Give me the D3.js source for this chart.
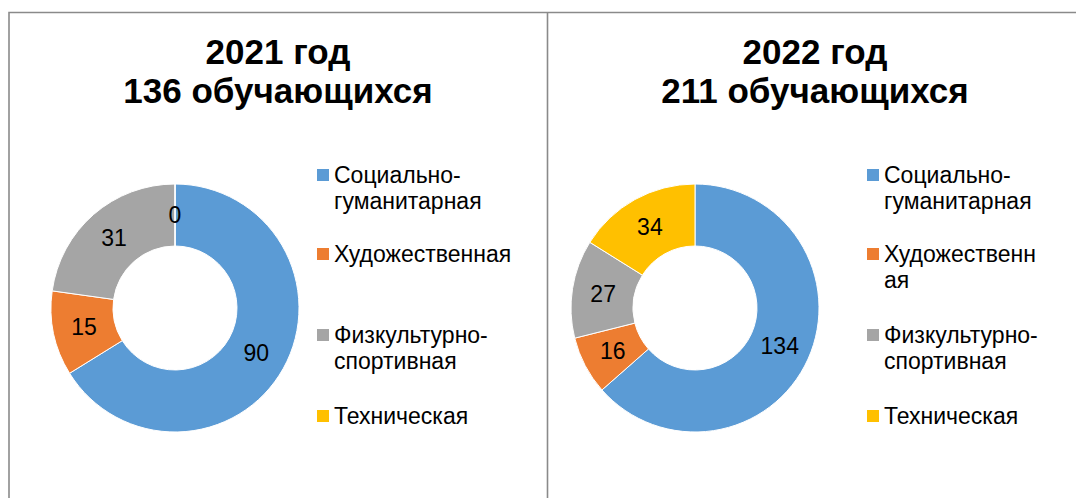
<!DOCTYPE html>
<html>
<head>
<meta charset="utf-8">
<script src="https://cdn.jsdelivr.net/npm/d3@7"></script>
<style>
  html, body { margin: 0; padding: 0; background: #fff; }
  svg { display: block; font-family: "Liberation Sans", Arial, sans-serif; }
</style>
</head>
<body>
<svg id="chart" width="1076" height="498"></svg>
<script>
// Направления дополнительного образования
const categories = ["Социально-гуманитарная", "Художественная", "Физкультурно-спортивная", "Техническая"];
const colors = ["#5B9BD5", "#ED7D31", "#A5A5A5", "#FFC000"];

// Число обучающихся по годам
const values2021 = [90, 15, 31, 0];
const values2022 = [134, 16, 27, 34];

const titles2021 = ["2021 год", "136 обучающихся"];
const titles2022 = ["2022 год", "211 обучающихся"];

// Подписи легенды (переносы строк как в каждой панели)
const legend2021 = [["Социально-", "гуманитарная"], ["Художественная"], ["Физкультурно-", "спортивная"], ["Техническая"]];
const legend2022 = [["Социально-", "гуманитарная"], ["Художественн", "ая"], ["Физкультурно-", "спортивная"], ["Техническая"]];

const svg = d3.select("#chart");

// Рамка панелей
const frame = svg.append("g").attr("fill", "none").attr("stroke", "#8a8a8a").attr("stroke-width", 1.6);
frame.append("path").attr("d", "M9,498 V12.5 H1076");
frame.append("path").attr("d", "M547.5,12.5 V498");

const color = d3.scaleOrdinal().domain(categories).range(colors);
const pie = d3.pie().sort(null).value(d => d.value);
const outerR = 124, innerR = 62;
const arc = d3.arc().innerRadius(innerR).outerRadius(outerR);
const labelArc = d3.arc().innerRadius((innerR + outerR) / 2).outerRadius((innerR + outerR) / 2);

function panel(opts) {
  const g = svg.append("g");

  // Заголовок
  g.append("text")
    .attr("x", opts.titleX)
    .attr("y", 64)
    .attr("text-anchor", "middle")
    .attr("font-size", 35)
    .attr("font-weight", "bold")
    .attr("fill", "#000")
    .selectAll("tspan")
    .data(opts.titles)
    .join("tspan")
      .attr("x", opts.titleX)
      .attr("dy", (d, i) => i === 0 ? 0 : 39)
      .text(d => d);

  // Кольцевая диаграмма
  const data = categories.map((c, i) => ({ category: c, value: opts.values[i] }));
  const arcs = pie(data);
  const donut = g.append("g").attr("transform", `translate(${opts.cx},${opts.cy})`);

  donut.selectAll("path")
    .data(arcs)
    .join("path")
      .attr("d", arc)
      .attr("fill", d => color(d.data.category))
      .attr("stroke", "#fff")
      .attr("stroke-width", 1);

  donut.selectAll("text")
    .data(arcs)
    .join("text")
      .attr("transform", d => `translate(${labelArc.centroid(d)})`)
      .attr("text-anchor", "middle")
      .attr("dominant-baseline", "central")
      .attr("font-size", 23)
      .attr("fill", "#000")
      .text(d => d.data.value);

  // Легенда: маркер и строки подписи
  const baselines = [183, 262, 343, 424];
  const lineGap = 25.8;
  const leg = g.append("g");
  categories.forEach((c, i) => {
    leg.append("rect")
      .attr("x", opts.legendX)
      .attr("y", baselines[i] - 14)
      .attr("width", 12)
      .attr("height", 12)
      .attr("fill", color(c));
    opts.legend[i].forEach((line, j) => {
      leg.append("text")
        .attr("x", opts.legendX + 17)
        .attr("y", baselines[i] + j * lineGap)
        .attr("font-size", 23)
        .attr("fill", "#000")
        .text(line);
    });
  });
}

panel({ titles: titles2021, values: values2021, legend: legend2021, titleX: 278, cx: 175, cy: 308, legendX: 317 });
panel({ titles: titles2022, values: values2022, legend: legend2022, titleX: 815, cx: 695, cy: 308, legendX: 867 });
</script>
</body>
</html>
